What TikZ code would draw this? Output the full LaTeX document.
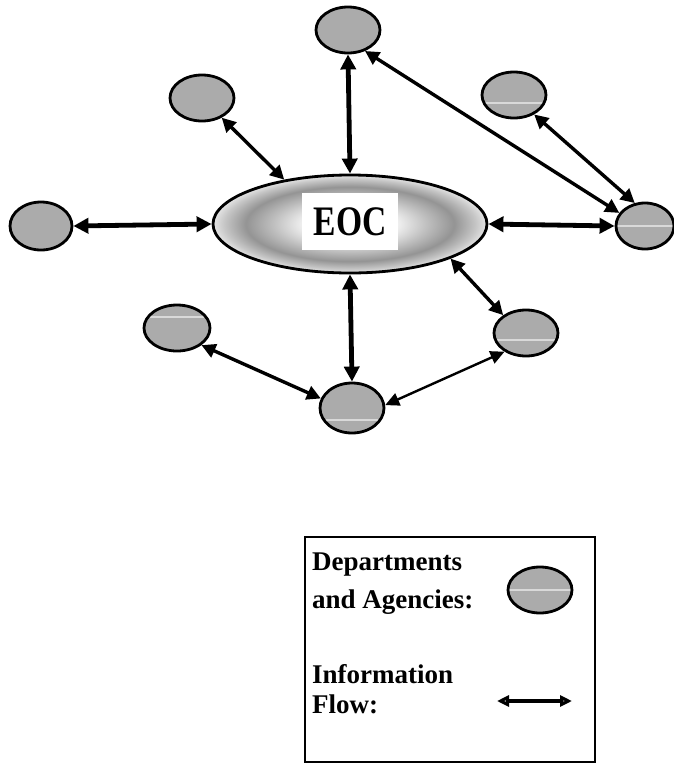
\documentclass[tikz,border=0pt]{standalone}
\usepackage{fontspec}
\usepackage{graphicx}
\setmainfont{Liberation Serif}
\usetikzlibrary{arrows.meta,shapes.geometric}
\pgfdeclareradialshading{eocshade}{\pgfpoint{0bp}{0bp}}{color(0bp)=(white); color(7bp)=(white); color(14bp)=(black!25); color(19bp)=(black!42); color(23bp)=(black!22); color(25bp)=(black!10); color(50bp)=(black!10)}
\begin{document}
\begin{tikzpicture}[x=1pt,y=-1pt,
  dept/.style={ellipse, draw=black, line width=2.8pt, fill=black!33, minimum width=64pt, minimum height=46pt, inner sep=0pt},
  band/.style={path picture={\fill[black!15] ([yshift=#1+1.2pt]path picture bounding box.west) rectangle ([yshift=#1-1.2pt]path picture bounding box.east);}},
  flowthick/.style={line width=4.8pt, {Triangle[length=15pt,width=15pt]}-{Triangle[length=15pt,width=15pt]}},
  flow/.style={line width=3.4pt, {Triangle[length=14pt,width=14pt]}-{Triangle[length=14pt,width=14pt]}},
  flowthin/.style={line width=2.4pt, {Triangle[length=14pt,width=13pt]}-{Triangle[length=14pt,width=13pt]}},
  legflow/.style={line width=4pt, {Triangle[length=12pt,width=11pt,fill=black!40]}-{Triangle[length=12pt,width=11pt,fill=black!40]}},
  legtext/.style={font=\fontsize{27}{27}\selectfont\bfseries, inner sep=0pt}
]
\fill[white] (0,0) rectangle (674,764);
\useasboundingbox (0,0) rectangle (674,764);

% central EOC
\node[ellipse, draw=black, line width=2.8pt, shading=eocshade, minimum width=274pt, minimum height=98pt, inner sep=0pt] (EOC) at (350,224) {};
\node[fill=white, minimum width=96pt, minimum height=57pt, inner sep=0pt] (eoctext) at (350,221.5) {\fontsize{42}{42}\selectfont\bfseries\scalebox{0.8}[1]{EOC}};

% departments and agencies
\node[dept] (T) at (348,30) {};
\node[dept] (TL) at (202,98) {};
\node[dept, band=-8] (TR) at (514,95) {};
\node[dept, minimum width=62pt, minimum height=48pt] (L) at (41,226) {};
\node[dept, band=0, minimum width=58pt] (R) at (645,226) {};
\node[dept, band=11, minimum width=66pt] (BL) at (177,328) {};
\node[dept, band=-12, minimum height=50pt] (B) at (352,408) {};
\node[dept, band=-7] (BR) at (526,333) {};

% information flow
\draw[flowthick] (T.south) -- (EOC.north);
\draw[flow] (TL.-45) -- (EOC.146);
\draw[flowthick] (L.east) -- (EOC.west);
\draw[flow] (T.-51) -- (R.153);
\draw[flow] (TR.-44) -- (R.114);
\draw[flowthick] (EOC.east) -- (R.west);
\draw[flow] (EOC.-19) -- (BR.142);
\draw[flowthick] (EOC.south) -- (B.north);
\draw[flow] (BL.-35) -- (B.163);
\draw[flowthin] (BR.221) -- (B.5);

% legend
\node[draw=black, line width=2.5pt, minimum width=290pt, minimum height=225pt, inner sep=0pt] (legend) at (450,649.5) {};
\node[legtext, anchor=base west] (dep1) at (312,570) {Departments};
\node[legtext, anchor=base west] (dep2) at (312,608) {and Agencies:};
\node[dept, band=0] (legdept) at (540,590) {};
\node[legtext, anchor=base west] (inf1) at (312,683) {Information};
\node[legtext, anchor=base west] (inf2) at (312,713) {Flow:};
\coordinate (la) at (497,701);
\coordinate (lb) at (572,701);
\draw[legflow] (la) -- (lb);
\end{tikzpicture}
\end{document}
